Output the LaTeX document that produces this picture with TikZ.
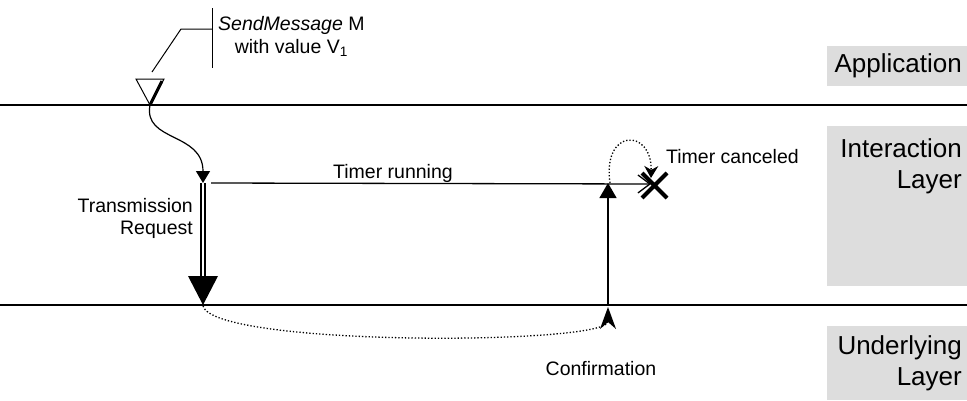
\documentclass[tikz,border=0pt]{standalone}
\usepackage{fontspec}
\setmainfont{Liberation Sans}
\usetikzlibrary{arrows.meta}
\definecolor{boxgray}{HTML}{DDDDDD}
\begin{document}
\begin{tikzpicture}[x=1pt,y=-1pt,
  lbl/.style={font=\fontsize{19.5}{22}\selectfont, inner sep=0pt},
  layer/.style={font=\fontsize{26}{31}\selectfont, inner sep=0pt, align=right},
  graybox/.style={fill=boxgray, draw=none},
  sepline/.style={line width=1.5pt},
  thin/.style={line width=1.3pt},
  dots/.style={line width=1.3pt, dotted},
]
\useasboundingbox (0,0) rectangle (967,400);

% gray boxes
\fill[graybox] (827,46) rectangle (967,86);
\fill[graybox] (827,126) rectangle (967,286);
\fill[graybox] (827,326) rectangle (967,400);

% layer labels
\node[layer, anchor=base east] (app) at (962,72) {Application};
\node[layer, anchor=east] (inter) at (962,166) {Interaction\\Layer};
\node[layer, anchor=east] (under) at (962,363) {Underlying\\Layer};

% separators
\coordinate (s1a) at (0,105);   \coordinate (s1b) at (967,105);
\coordinate (s2a) at (0,305);   \coordinate (s2b) at (967,305);
\draw[sepline] (s1a) -- (s1b);
\draw[sepline] (s2a) -- (s2b);

% service triangle
\coordinate (apex) at (150,105);
\coordinate (tl) at (136,79);
\coordinate (trr) at (164,79);
\draw[line width=1pt] (tl) -- (trr) -- (apex) -- cycle;
\coordinate (thk) at (162,81);
\draw[line width=3pt] (thk) -- (apex);

% call-out
\coordinate (c0) at (152,72);
\coordinate (c1) at (181,29);
\coordinate (c2) at (212,29);
\coordinate (b0) at (212,8);
\coordinate (b1) at (212,68);
\draw[line width=1pt] (c0) -- (c1) -- (c2);
\draw[line width=1pt] (b0) -- (b1);
\node[lbl, align=center, anchor=north west, font=\fontsize{19.5}{23}\selectfont] (send) at (218,16)
  {\textit{SendMessage} M\\with value V\textsubscript{1}};

% request
\coordinate (req) at (203,183);
\draw[line width=1.2pt, -{Triangle[length=12pt,width=14pt]}] (apex) .. controls (143,142) and (203,132) .. (req);
\coordinate (reqend) at (203,278);
\draw[line width=1.3pt, double, double distance=2.7pt] (req) -- (reqend);
\coordinate (bigL) at (188,276);
\coordinate (bigR) at (218,276);
\coordinate (bigT) at (203,305);
\fill (bigL) -- (bigR) -- (bigT) -- cycle;
\node[lbl, align=right, anchor=east] (trq) at (193,218.5) {Transmission\\Request};

% timer
\coordinate (tstart) at (211,183);
\coordinate (tend) at (651,184);
\draw[thin, -{Straight Barb[length=12pt,width=18pt]}] (tstart) -- (tend);
\node[lbl, anchor=base] (trun) at (393,178) {Timer running};

% confirmation up arrow
\coordinate (cfb) at (608,305);
\coordinate (cft) at (608,183);
\draw[thin, -{Triangle[length=15pt,width=17pt]}] (cfb) -- (cft);

% cancel cross
\coordinate (x1) at (642,173); \coordinate (x2) at (667,198);
\coordinate (x3) at (642,198); \coordinate (x4) at (667,173);
\draw[line width=4pt] (x1) -- (x2) (x3) -- (x4);

% dotted arc
\coordinate (arcS) at (610,183);
\coordinate (arcE) at (651,178);
\draw[dots, -{Stealth[length=12pt,width=14pt]}] (arcS) .. controls (602,128) and (652,128) .. (arcE);
\node[lbl, anchor=base west] (tcan) at (666,163) {Timer canceled};

% dotted confirmation
\coordinate (cS) at (203,306);
\coordinate (cE) at (608,307);
\draw[dots, -{Stealth[length=22pt,width=16pt,inset=7pt]}] (cS) .. controls (215,347) and (608,345) .. (cE);
\node[lbl, anchor=base] (conf) at (601,375) {Confirmation};
\end{tikzpicture}
\end{document}
